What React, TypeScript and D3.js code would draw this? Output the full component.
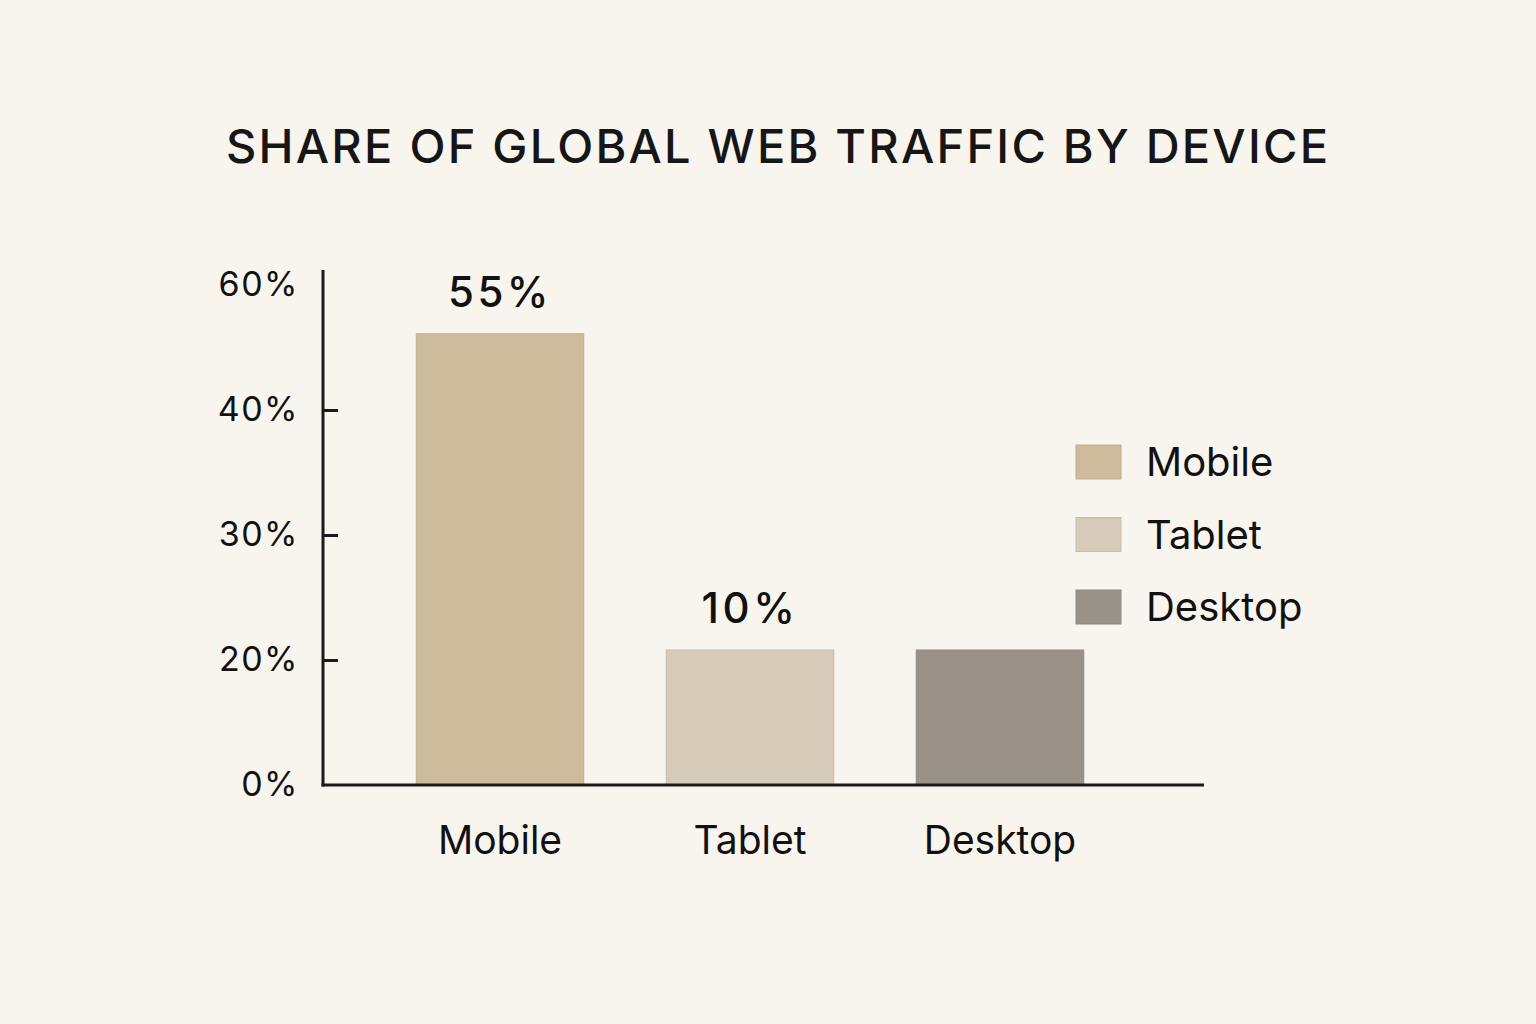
import React, { useEffect, useRef } from "react";
import * as d3 from "d3";

// chart data
const categories = ["Mobile", "Tablet", "Desktop"];
const barValues = [52.2, 20.8, 20.8]; // bar heights
const valueLabels = ["55%", "10%", ""]; // labels printed above the bars
const colors = ["#cdbb9c", "#d6cbb8", "#9a9288"];
const tickValues = [0, 20, 30, 40, 60];
const tickLabels = ["0%", "20%", "30%", "40%", "60%"];
const title = "SHARE OF GLOBAL WEB TRAFFIC BY DEVICE";

const W = 1536;
const H = 1024;
const FONT = "Inter, 'Noto Sans', sans-serif";

export default function App() {
  const ref = useRef<SVGSVGElement>(null);

  useEffect(() => {
    document.body.style.margin = "0";
    document.body.style.background = "#f8f5ef";

    const svg = d3.select(ref.current);
    svg.selectAll("*").remove();

    const axisX = 323;
    const axisEnd = 1204;

    // y axis: ticks are evenly spaced even though the labels are not
    const y = d3
      .scaleLinear()
      .domain(tickValues)
      .range(tickValues.map((_, i) => 785 - i * 125));

    const x = d3
      .scaleBand()
      .domain(categories)
      .range([375, 1125])
      .paddingInner(0.33)
      .paddingOuter(0.165);

    svg
      .append("rect")
      .attr("width", W)
      .attr("height", H)
      .attr("fill", "#f8f5ef");

    // title
    svg
      .append("text")
      .attr("x", 777)
      .attr("y", 163)
      .attr("text-anchor", "middle")
      .attr("font-family", FONT)
      .attr("font-size", 47)
      .attr("font-weight", 500)
      .attr("fill", "#161616")
      .attr("textLength", 1102)
      .attr("lengthAdjust", "spacing")
      .text(title);

    // bars
    svg
      .selectAll("rect.bar")
      .data(categories)
      .enter()
      .append("rect")
      .attr("class", "bar")
      .attr("x", (d) => x(d)!)
      .attr("y", (d, i) => y(barValues[i]))
      .attr("width", x.bandwidth())
      .attr("height", (d, i) => y(0) - y(barValues[i]))
      .attr("fill", (d, i) => colors[i])
      .attr("stroke", (d, i) => d3.color(colors[i])!.darker(0.2).toString())
      .attr("stroke-width", 1);

    // value labels
    svg
      .selectAll("text.value")
      .data(categories)
      .enter()
      .append("text")
      .attr("class", "value")
      .attr("x", (d) => x(d)! + x.bandwidth() / 2)
      .attr("y", (d, i) => y(barValues[i]) - 27)
      .attr("text-anchor", "middle")
      .attr("font-family", FONT)
      .attr("font-size", 42)
      .attr("font-weight", 500)
      .attr("letter-spacing", 3.5)
      .attr("fill", "#111")
      .text((d, i) => valueLabels[i]);

    // y axis
    const yAxis = svg
      .append("g")
      .attr("transform", `translate(${axisX},0)`)
      .call(
        d3
          .axisLeft(y)
          .tickValues(tickValues)
          .tickSizeInner(-15)
          .tickSizeOuter(0)
          .tickPadding(24)
          .tickFormat((d, i) => tickLabels[i])
      );
    yAxis.select(".domain").remove();
    yAxis
      .selectAll(".tick line")
      .attr("stroke", "#1a1a1a")
      .attr("stroke-width", 3)
      .attr("display", (d: any) => (d === 0 || d === 60 ? "none" : null));
    yAxis
      .selectAll(".tick text")
      .attr("font-family", FONT)
      .attr("font-size", 34)
      .attr("letter-spacing", 1.5)
      .attr("fill", "#111");

    svg
      .append("line")
      .attr("x1", axisX)
      .attr("x2", axisX)
      .attr("y1", y(60) - 15)
      .attr("y2", y(0) + 1.5)
      .attr("stroke", "#1a1a1a")
      .attr("stroke-width", 3);

    // x axis
    svg
      .append("line")
      .attr("x1", axisX - 1.5)
      .attr("x2", axisEnd)
      .attr("y1", y(0))
      .attr("y2", y(0))
      .attr("stroke", "#1a1a1a")
      .attr("stroke-width", 3);

    svg
      .selectAll("text.cat")
      .data(categories)
      .enter()
      .append("text")
      .attr("class", "cat")
      .attr("x", (d) => x(d)! + x.bandwidth() / 2)
      .attr("y", 854)
      .attr("text-anchor", "middle")
      .attr("font-family", FONT)
      .attr("font-size", 39)
      .attr("fill", "#111")
      .text((d) => d);

    // legend
    const legend = svg
      .selectAll("g.legend")
      .data(categories)
      .enter()
      .append("g")
      .attr("class", "legend")
      .attr("transform", (d, i) => `translate(1076,${445 + i * 72.5})`);
    legend
      .append("rect")
      .attr("width", 45)
      .attr("height", 34)
      .attr("fill", (d, i) => colors[i])
      .attr("stroke", (d, i) => d3.color(colors[i])!.darker(0.2).toString())
      .attr("stroke-width", 1);
    legend
      .append("text")
      .attr("x", 70)
      .attr("y", 17)
      .attr("dy", "0.36em")
      .attr("font-family", FONT)
      .attr("font-size", 40)
      .attr("fill", "#111")
      .text((d) => d);
  }, []);

  return <svg ref={ref} width={W} height={H} style={{ display: "block" }} />;
}
